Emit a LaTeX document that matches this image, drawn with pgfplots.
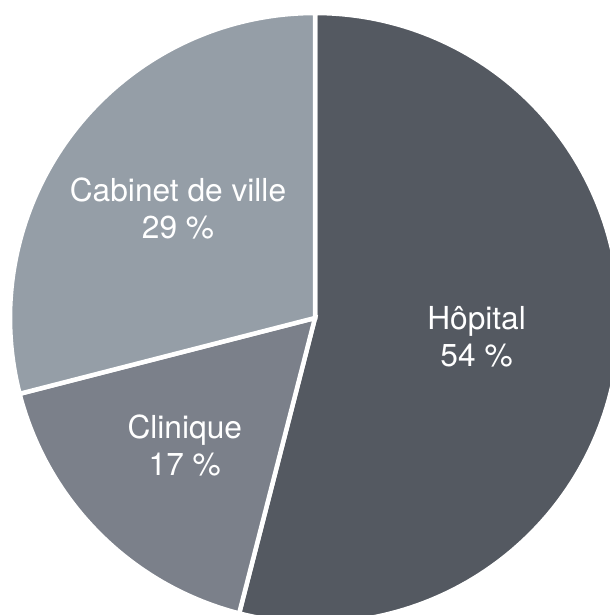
\documentclass[border=0pt]{standalone}
\usepackage{pgfplots}
\pgfplotsset{compat=1.18}
\usepackage{fontspec}
\setmainfont{TeX Gyre Heros}
\definecolor{hop}{HTML}{545961}
\definecolor{cli}{HTML}{7B808A}
\definecolor{cab}{HTML}{959EA7}
% shares (percent)
\def\vHop{54}
\def\vCli{17}
\def\vCab{29}
\pgfmathsetmacro{\aA}{90}
\pgfmathsetmacro{\aB}{90-3.6*\vHop}
\pgfmathsetmacro{\aC}{\aB-3.6*\vCli}
\pgfmathsetmacro{\aD}{\aC-3.6*\vCab}
\begin{document}
\begin{tikzpicture}
\begin{axis}[scale only axis, width=610bp, height=615bp,
  xmin=-315, xmax=295, ymin=-297, ymax=318,
  axis line style={draw=none}, ticks=none, clip=true]
\addplot[fill=hop, draw=white, line width=4.5bp, domain=\aB:\aA, samples=150, variable=\t]
  ({305*cos(\t)},{305*sin(\t)}) -- (axis cs:0,0) -- cycle;
\addplot[fill=cli, draw=white, line width=4.5bp, domain=\aC:\aB, samples=60, variable=\t]
  ({305*cos(\t)},{305*sin(\t)}) -- (axis cs:0,0) -- cycle;
\addplot[fill=cab, draw=white, line width=4.5bp, domain=\aD:\aC, samples=90, variable=\t]
  ({305*cos(\t)},{305*sin(\t)}) -- (axis cs:0,0) -- cycle;
\tikzset{lbl/.style={anchor=base, text=white, inner sep=0pt, font=\fontsize{31.8}{38}\selectfont}}
\node[lbl] at (axis cs:-137,116) {Cabinet de ville};
\node[lbl] at (axis cs:-137,79) {29 \%};
\node[lbl] at (axis cs:161.6,-12) {Hôpital};
\node[lbl] at (axis cs:161.6,-48.5) {54 \%};
\node[lbl] at (axis cs:-130.2,-121) {Clinique};
\node[lbl] at (axis cs:-130.2,-157.5) {17 \%};
\end{axis}
\end{tikzpicture}
\end{document}
